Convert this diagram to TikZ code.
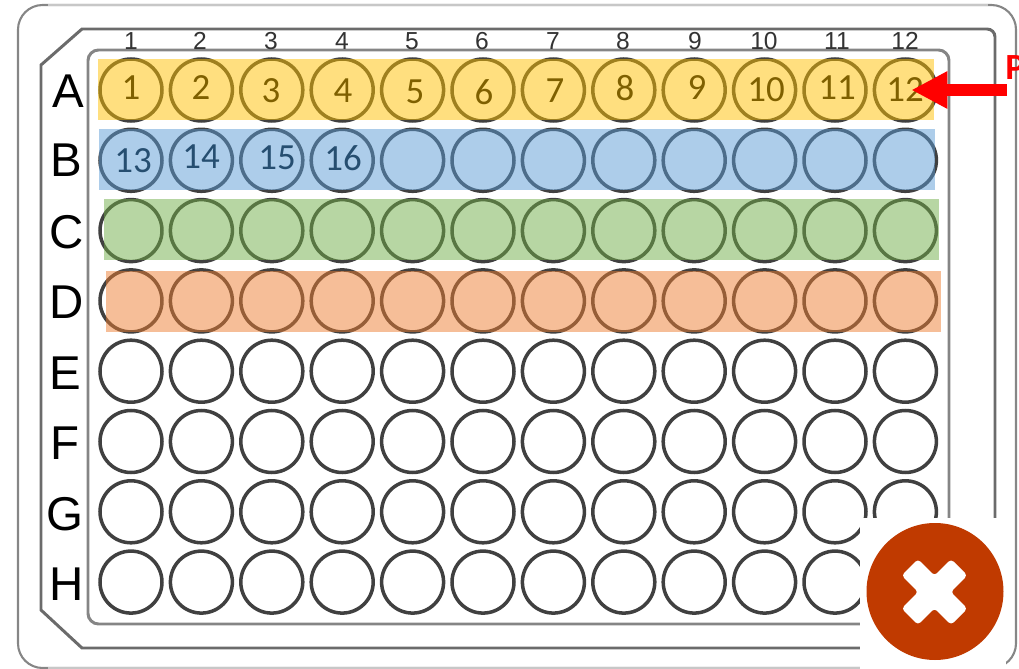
\documentclass[tikz,border=0pt]{standalone}
\usepackage{fontspec}
\setmainfont{Carlito}
\newfontfamily\platefont{Liberation Sans}
\usetikzlibrary{arrows.meta}
\definecolor{RowYellow}{RGB}{255, 192, 0}
\definecolor{RowBlue}{RGB}{91, 155, 213}
\definecolor{RowGreen}{RGB}{112, 173, 71}
\definecolor{RowOrange}{RGB}{237, 125, 49}
\definecolor{TextYellow}{RGB}{127, 96, 0}
\definecolor{TextBlue}{RGB}{38, 78, 112}
\definecolor{FailRed}{RGB}{192, 58, 0}
\tikzset{
  well/.style={circle, draw=black!75, line width=2pt, minimum size=1.24cm, inner sep=0pt},
  rowband/.style={fill opacity=0.5},
  colnum/.style={font=\platefont\fontsize{14}{14}\selectfont, text=black!80, inner sep=0pt},
  rowletter/.style={font=\platefont\fontsize{27}{27}\selectfont, inner sep=0pt},
  wellnum/.style={font=\fontsize{21}{21}\selectfont, inner sep=0pt},
}

\begin{document}
\begin{tikzpicture}[x=0.02cm, y=-0.02cm]
    \useasboundingbox (0,0) rectangle (1019,669);

    % Plate frames
    \draw[line width=1.2pt, gray!95, rounded corners=14pt] (18,5) rectangle (1016,668);
    \draw[line width=1.2pt, black!22] (48,5) -- (988,5);
    \draw[line width=1.2pt, black!22] (48,668) -- (988,668);
    \draw[line width=1.7pt, black!58, rounded corners=4.5pt] (82,29) -- (995,29) -- (995,648) [sharp corners] -- (82,648) -- (41,610) -- (41,65) -- cycle;
    \draw[line width=1.7pt, black!48, rounded corners=6pt] (88,50) rectangle (949,624);

    % Column numbers
    \foreach \c/\xc in {1/131,2/200,3/271,4/342,5/412,6/482,7/553,8/623,9/695,10/764,11/837,12/905}
      \node[colnum] (col\c) at (\xc,41) {\c};

    % Row letters
    \foreach \r/\xr/\yr in {A/68/91,B/66/160,C/67/232,D/67/302,E/65/373,F/65/443,G/65/514,H/67/584}
      \node[rowletter] (row\r) at (\xr,\yr) {\r};

    % Wells
    \foreach \r [count=\ri from 0] in {A,B,C,D,E,F,G,H}
      \foreach \c in {1,...,12}
        \node[well] (\r\c) at ({131+70.4*(\c-1)},{90+70.3*\ri}) {};

    % Filled rows
    \fill[rowband, RowYellow] (98,59) rectangle (934,120);
    \fill[rowband, RowBlue] (99,129) rectangle (935,190);
    \fill[rowband, RowGreen] (104,199) rectangle (939,260);
    \fill[rowband, RowOrange] (106,271) rectangle (941,332);

    % Well numbers
    \foreach \n/\xn/\yn in {1/131/88,2/201/88,3/271/91,4/343/91,5/415/92,6/484/92,7/555/91,8/625/88,9/697/88,10/766/90,11/837/88,12/905/90}
      \node[wellnum, TextYellow] (num\n) at (\xn,\yn) {\n};
    \foreach \n/\xn/\yn in {13/133/161,14/201/157,15/277/158,16/343/158}
      \node[wellnum, TextBlue] (num\n) at (\xn,\yn) {\n};

    % Pointer
    \coordinate (pstart) at (1007,90);
    \draw[-{Triangle[length=0.72cm, width=0.7cm]}, red, line width=6.8pt, shorten >=0.12cm] (pstart) -- (A12.center);
    \node[red, anchor=west, inner sep=0pt, font=\bfseries\fontsize{21}{21}\selectfont] (plabel) at (1005,67.5) {P};

    % Fail mark
    \fill[white] (860,518) rectangle (1006,669);
    \fill[FailRed] (935,591.5) circle[radius=68.5];
    \begin{scope}[shift={(934.5,592)}, rotate=45]
      \fill[white, rounded corners=2pt] (-35,-11.5) -- (-11.5,-11.5) -- (-11.5,-35) -- (11.5,-35) -- (11.5,-11.5)
        -- (35,-11.5) -- (35,11.5) -- (11.5,11.5) -- (11.5,35) -- (-11.5,35) -- (-11.5,11.5) -- (-35,11.5) -- cycle;
    \end{scope}
\end{tikzpicture}
\end{document}
